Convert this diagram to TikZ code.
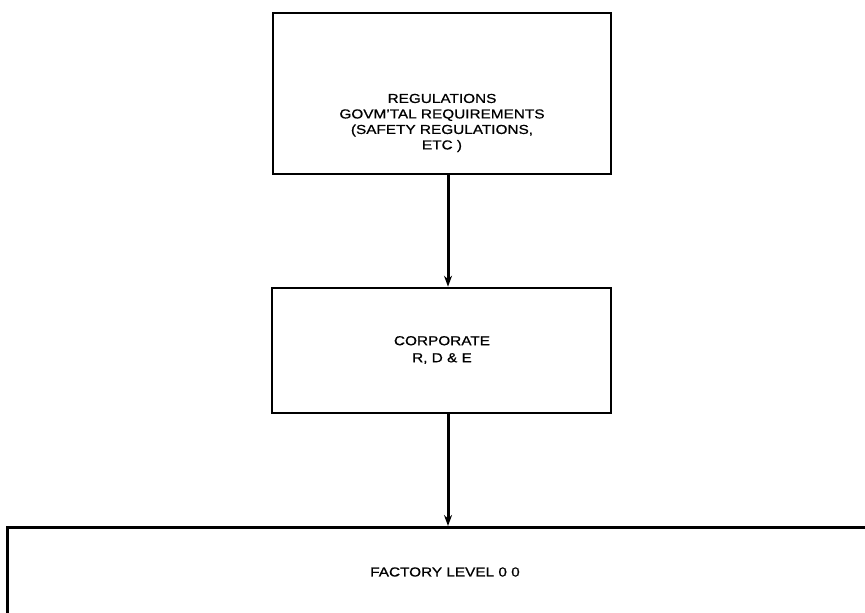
\documentclass[tikz,border=0pt]{standalone}
\usepackage{fontspec}
\setmainfont{Liberation Sans}[FakeStretch=1.18,FakeBold=0.7]
\usetikzlibrary{arrows.meta}
\begin{document}
\begin{tikzpicture}[x=1pt,y=-1pt,
  boxstyle/.style={draw=black,line width=2.6pt,fill=none,inner sep=0pt},
  labelstyle/.style={align=center,font=\fontsize{13}{15.5}\selectfont,inner sep=0pt},
  flowarrow/.style={line width=3pt,-{Stealth[length=11pt,width=8pt]}}]
\useasboundingbox (0,0) rectangle (865,613);
\clip (0,0) rectangle (865,613);
\fill[white] (0,0) rectangle (865,613);
% boxes
\node[boxstyle,minimum width=338pt,minimum height=161pt] (reg) at (442,93.5) {};
\node[boxstyle,minimum width=339pt,minimum height=125pt] (corp) at (441.5,350.5) {};
\node[boxstyle,minimum width=900pt,minimum height=140pt,anchor=north west] (fact) at (6,526) {};
% labels
\node[labelstyle] (regtext) at (442,123) {REGULATIONS\\GOVM'TAL REQUIREMENTS\\(SAFETY REGULATIONS,\\ETC )};
\node[labelstyle,font=\fontsize{13}{17}\selectfont] (corptext) at (442,350) {CORPORATE\\R, D \& E};
\node[labelstyle] (facttext) at (445,572) {FACTORY LEVEL 0 0};
% connectors
\coordinate (axis) at (448,0);
\draw[flowarrow] (reg.south -| axis) -- (corp.north -| axis);
\draw[flowarrow] (corp.south -| axis) -- (fact.north -| axis);
\end{tikzpicture}
\end{document}
